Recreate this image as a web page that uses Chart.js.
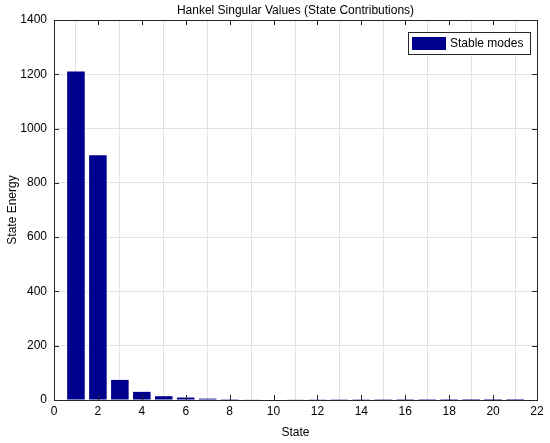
<!DOCTYPE html>
<html>
<head>
<meta charset="utf-8">
<script src="https://cdn.jsdelivr.net/npm/chart.js@4"></script>
<style>
  html, body { margin: 0; padding: 0; background: #fff; }
  #wrap { width: 550px; height: 443px; }
</style>
</head>
<body>
<div id="wrap"><canvas id="myChart"></canvas></div>
<script>
// data
const states = [1, 2, 3, 4, 5, 6, 7, 8, 9, 10, 11, 12, 13, 14, 15, 16, 17, 18, 19, 20, 21]
const energy = [1210, 902, 74, 30, 14, 9, 5, 3, 2.2, 1.8, 1.4, 1.1, 0.9, 0.8, 0.6, 0.5, 0.4, 0.3, 0.2, 0.15, 0.1]
const xTicks = [0, 2, 4, 6, 8, 10, 12, 14, 16, 18, 20, 22]
const yTicks = [0, 200, 400, 600, 800, 1000, 1200, 1400]

const titleText = "Hankel Singular Values (State Contributions)"
const barColor = "#00008f"
const fontFam = "'Liberation Sans', Arial, sans-serif"

// box, inward ticks, title and legend the matlab way
const matlabBits = {
  id: "matlabBits",
  afterDraw(chart) {
    const ctx = chart.ctx
    const a = chart.chartArea
    const xs = chart.scales.x
    const ys = chart.scales.y
    ctx.save()
    ctx.strokeStyle = "#262626"
    ctx.lineWidth = 1
    ctx.beginPath()
    xTicks.forEach(t => {
      const px = Math.round(xs.getPixelForValue(t)) + 0.5
      ctx.moveTo(px, a.bottom); ctx.lineTo(px, a.bottom - 5)
      ctx.moveTo(px, a.top); ctx.lineTo(px, a.top + 5)
    })
    yTicks.forEach(t => {
      const py = Math.round(ys.getPixelForValue(t)) + 0.5
      ctx.moveTo(a.left, py); ctx.lineTo(a.left + 5, py)
      ctx.moveTo(a.right, py); ctx.lineTo(a.right - 5, py)
    })
    ctx.stroke()
    ctx.strokeRect(Math.round(a.left) + 0.5, Math.round(a.top) + 0.5, Math.round(a.right - a.left), Math.round(a.bottom - a.top))

    // title
    ctx.fillStyle = "#000"
    ctx.font = "12px " + fontFam
    ctx.textAlign = "center"
    ctx.textBaseline = "bottom"
    ctx.fillText(titleText, (a.left + a.right) / 2, a.top - 3)

    // legend
    const lw = 122, lh = 22
    const lx = a.right - 7 - lw, ly = a.top + 12
    ctx.fillStyle = "#fff"
    ctx.fillRect(lx, ly, lw, lh)
    ctx.strokeStyle = "#262626"
    ctx.strokeRect(lx + 0.5, ly + 0.5, lw, lh)
    ctx.fillStyle = barColor
    ctx.fillRect(lx + 4, ly + 5, 34, 13)
    ctx.fillStyle = "#000"
    ctx.textAlign = "left"
    ctx.textBaseline = "middle"
    ctx.fillText(chart.data.datasets[0].label, lx + 42, ly + lh / 2 + 1)
    ctx.restore()
  }
}

const updatee = new Chart("myChart", {
  type: "bar",
  data: {
    datasets: [{
      label: "Stable modes",
      data: states.map((s, i) => ({ x: s, y: energy[i] })),
      backgroundColor: barColor,
      borderWidth: 0,
      categoryPercentage: 1,
      barPercentage: 0.8
    }]
  },
  options: {
    responsive: true,
    maintainAspectRatio: false,
    animation: false,
    layout: { padding: { left: 0, right: 13, top: 20, bottom: 0 } },
    plugins: {
      legend: { display: false },
      title: { display: false },
      tooltip: { enabled: false }
    },
    scales: {
      x: {
        type: "linear",
        offset: false,
        min: 0,
        max: 22,
        afterBuildTicks: s => { s.ticks = xTicks.map(v => ({ value: v })) },
        afterFit: s => { s.height = 43 },
        grid: { color: "#e3e3e3", drawTicks: false },
        border: { display: false },
        ticks: { color: "#000", padding: 4, font: { family: fontFam, size: 12 }, maxRotation: 0, callback: v => String(v) },
        title: { display: true, text: "State", color: "#000", padding: { top: 0, bottom: 3 }, font: { family: fontFam, size: 12 } }
      },
      y: {
        min: 0,
        max: 1400,
        afterBuildTicks: s => { s.ticks = yTicks.map(v => ({ value: v })) },
        afterFit: s => { s.width = 54 },
        grid: { color: "#e3e3e3", drawTicks: false },
        border: { display: false },
        ticks: { color: "#000", padding: 7, font: { family: fontFam, size: 12 }, callback: v => String(v) },
        title: { display: true, text: "State Energy", color: "#000", padding: { top: 5, bottom: 0 }, font: { family: fontFam, size: 12 } }
      }
    }
  },
  plugins: [matlabBits]
})
</script>
</body>
</html>
